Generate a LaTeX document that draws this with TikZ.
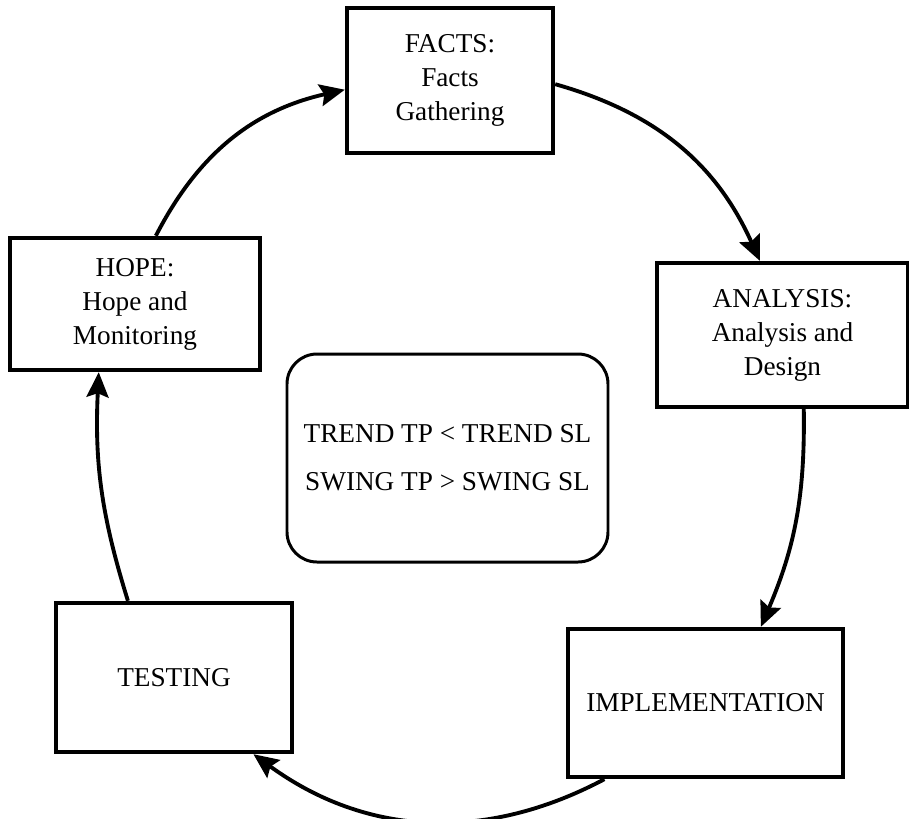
\documentclass[tikz,border=0pt]{standalone}
\usepackage{fontspec}
\setmainfont{Liberation Serif}
\usetikzlibrary{arrows.meta}

\begin{document}
\begin{tikzpicture}[
    stage/.style={draw, line width=2.5pt, align=center, fill=white,
                  font=\fontsize{15.5}{19.3}\selectfont},
    rulebox/.style={draw, line width=1.7pt, rounded corners=0.6cm, align=center,
                    minimum width=6.42cm, minimum height=4.16cm,
                    font=\fontsize{15.5}{19.3}\selectfont},
    arr/.style={-{Stealth[length=0.5cm, width=0.44cm, inset=0.08cm]}, line width=2.2pt}
  ]
  \useasboundingbox (0,0) rectangle (18.18,-16.36);

  % the five stages of the cycle
  \node[stage, minimum width=4.12cm, minimum height=2.9cm]  (facts)    at (9.0,-1.61)   {FACTS:\\Facts\\Gathering};
  \node[stage, minimum width=5.02cm, minimum height=2.88cm] (analysis) at (15.65,-6.7)  {ANALYSIS:\\Analysis and\\Design};
  \node[stage, minimum width=5.5cm,  minimum height=2.96cm] (impl)     at (14.11,-14.06) {IMPLEMENTATION};
  \node[stage, minimum width=4.72cm, minimum height=2.98cm] (testing)  at (3.48,-13.55) {TESTING};
  \node[stage, minimum width=5.0cm,  minimum height=2.64cm] (hope)     at (2.7,-6.08)   {HOPE:\\Hope and\\Monitoring};

  % rule in the middle
  \node[rulebox] (rules) at (8.95,-9.16) {TREND TP < TREND SL\\[8pt]SWING TP > SWING SL};

  % arcs running clockwise round the circle
  \draw[arr] (hope.73)     to[bend left=25] (facts.185);
  \draw[arr] (facts.-2)    to[bend left=25] (analysis.107);
  \draw[arr] (analysis.-74) to[bend left=12] (impl.54);
  \draw[arr] (impl.217)    to[bend left=32] (testing.-44);
  \draw[arr] (testing.121) to[bend left=10] (hope.242);
\end{tikzpicture}
\end{document}
